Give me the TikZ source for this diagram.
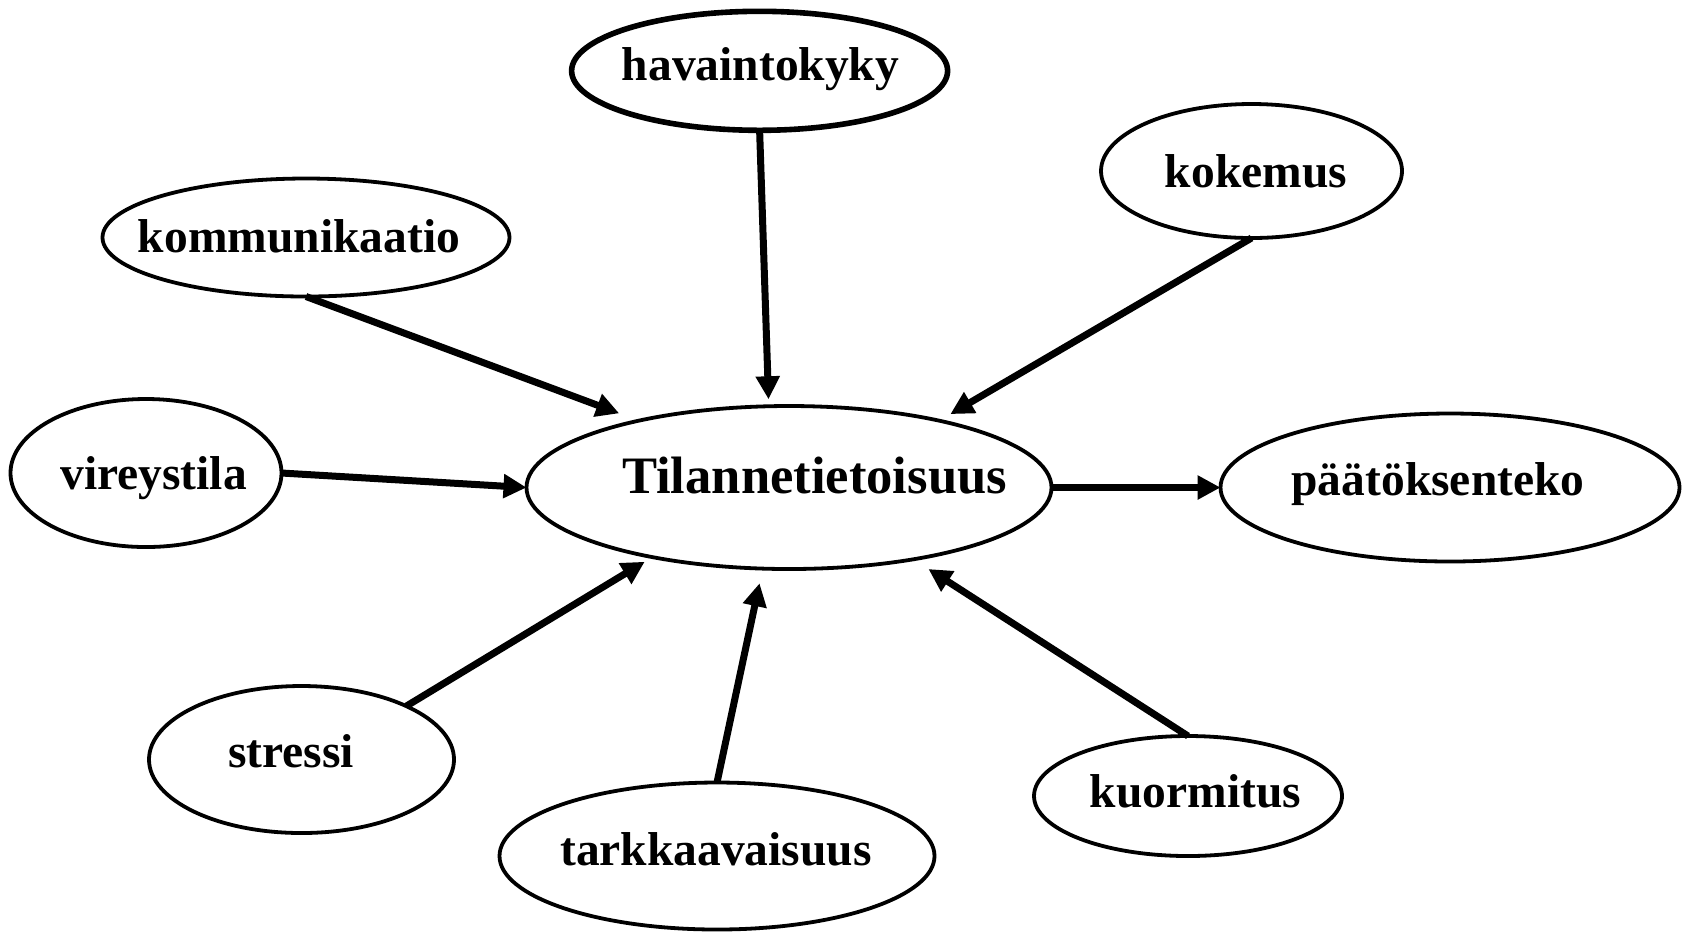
\documentclass[tikz,border=0pt]{standalone}
\usepackage{fontspec}
\setmainfont{Liberation Serif}
\usetikzlibrary{shapes.geometric,arrows.meta}
\begin{document}
\begin{tikzpicture}[x=0.5pt,y=-0.5pt,
  oval/.style={ellipse,draw,line width=1.9pt,inner sep=0pt,outer sep=0pt},
  heavyoval/.style={oval,line width=2.8pt},
  lbl/.style={inner sep=0pt,anchor=base,font=\fontsize{23.75}{28}\selectfont\bfseries},
  mainlbl/.style={lbl,font=\fontsize{26.3}{31}\selectfont\bfseries},
  arr/.style={line width=3.5pt,-{Triangle[length=11.5pt,width=11.5pt]}}]
\useasboundingbox (0,0) rectangle (1689,934);

% ellipses (sizes in pt, half of the pixel extents)
\node[oval,minimum width=262.5pt,minimum height=81.5pt] (til) at (789,487.5) {};
\node[oval,minimum width=203.5pt,minimum height=59pt] (kom) at (306,237.5) {};
\node[heavyoval,minimum width=188pt,minimum height=59.5pt] (hav) at (759.6,70.8) {};
\node[oval,minimum width=150.5pt,minimum height=67pt] (kok) at (1251.5,171) {};
\node[oval,minimum width=135.5pt,minimum height=74pt] (vir) at (146,473) {};
\node[oval,minimum width=152.5pt,minimum height=73.5pt] (str) at (301.5,759.5) {};
\node[oval,minimum width=217.5pt,minimum height=73.5pt] (tar) at (717,856) {};
\node[oval,minimum width=154pt,minimum height=60pt] (kuo) at (1188,796) {};
\node[oval,minimum width=229.5pt,minimum height=74pt] (paa) at (1450,487.5) {};

% labels
\node[mainlbl] (til-t) at (814.5,493) {Tilannetietoisuus};
\node[lbl] (kom-t) at (299,252) {kommunikaatio};
\node[lbl] (hav-t) at (760.5,80) {havaintokyky};
\node[lbl] (kok-t) at (1256,187) {kokemus};
\node[lbl] (vir-t) at (153.5,489) {vireystila};
\node[lbl] (str-t) at (291,767) {stressi};
\node[lbl] (tar-t) at (716,865) {tarkkaavaisuus};
\node[lbl] (kuo-t) at (1195.5,807) {kuormitus};
\node[lbl] (paa-t) at (1438,495) {päätöksenteko};

% connectors
\draw[arr,shorten >=10.5pt] (kom.south) -- (til.156);
\draw[arr,shorten >=3.5pt] (hav.south) -- (til.104.8);
\draw[arr,shorten >=6.5pt] (kok.south) -- (til.24.9);
\draw[arr] (vir.east) -- (til.west);
\draw[arr,shorten >=4.5pt] (str.27.4) -- (til.207.8);
\draw[arr,shorten >=7.5pt] (tar.north) -- (til.252.6);
\draw[arr,shorten >=9pt] (kuo.north) -- (til.330.8);
\draw[arr] (til.east) -- (paa.west);
\end{tikzpicture}
\end{document}
